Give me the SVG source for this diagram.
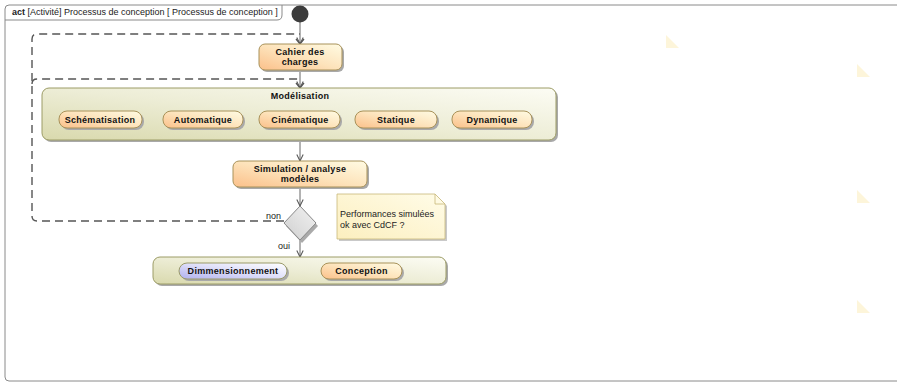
<svg xmlns="http://www.w3.org/2000/svg" width="897" height="382" viewBox="0 0 897 382">
  <defs>
    <linearGradient id="gAction" x1="0" y1="1" x2="1" y2="0">
      <stop offset="0" stop-color="#fbc08a"/>
      <stop offset="0.5" stop-color="#fde3bb"/>
      <stop offset="1" stop-color="#fffbe3"/>
    </linearGradient>
    <linearGradient id="gBlue" x1="0" y1="1" x2="1" y2="0">
      <stop offset="0" stop-color="#b0b0ee"/>
      <stop offset="0.55" stop-color="#e2e2fa"/>
      <stop offset="1" stop-color="#ffffff"/>
    </linearGradient>
    <linearGradient id="gGroup" x1="0" y1="1" x2="1" y2="0">
      <stop offset="0" stop-color="#d9d9ad"/>
      <stop offset="0.5" stop-color="#ededd6"/>
      <stop offset="1" stop-color="#fcfcf4"/>
    </linearGradient>
    <linearGradient id="gNote" x1="0" y1="1" x2="1" y2="0">
      <stop offset="0" stop-color="#fcefbf"/>
      <stop offset="1" stop-color="#fffce8"/>
    </linearGradient>
    <linearGradient id="gDiamond" x1="0" y1="1" x2="1" y2="0">
      <stop offset="0" stop-color="#cfcfcf"/>
      <stop offset="1" stop-color="#f2f2f2"/>
    </linearGradient>
    <marker id="open" viewBox="0 0 10 10" refX="9" refY="5" markerWidth="8" markerHeight="8" orient="auto" markerUnits="userSpaceOnUse">
      <path d="M1,1 L9,5 L1,9" fill="none" stroke="#555" stroke-width="1.3"/>
    </marker>
  </defs>
  <style>
    .frame { fill: #fff; stroke: #8a8a8a; stroke-width: 1; }
    .shadow { fill: #a9a9a9; }
    .action { fill: url(#gAction); stroke: #a8925a; stroke-width: 1; }
    .blue { fill: url(#gBlue); stroke: #9a9a6a; stroke-width: 1; }
    .group { fill: url(#gGroup); stroke: #9c9c66; stroke-width: 1; }
    .note { fill: url(#gNote); stroke: #c8b878; stroke-width: 0.8; }
    .lbl { font-family: "Liberation Sans", Arial, sans-serif; font-size: 9px; font-weight: bold; fill: #111; text-anchor: middle; letter-spacing: 0.3px; }
    .txt { font-family: "Liberation Sans", Arial, sans-serif; font-size: 9px; fill: #222; }
    .flow { fill: none; stroke: #666; stroke-width: 1; }
    .dash { fill: none; stroke: #555; stroke-width: 1.4; stroke-dasharray: 8 5; }
    .fold { fill: #fdf5da; }
  </style>

  <!-- activity frame -->
  <g id="frame">
    <rect class="frame" x="5" y="5" width="900" height="376" rx="4"/>
    <path d="M5,20 H277 Q282,20 282,15 V5" fill="none" stroke="#8a8a8a" stroke-width="1"/>
    <text class="txt" x="12" y="15" font-size="9"><tspan font-weight="bold">act</tspan> [Activité] Processus de conception [ Processus de conception ]</text>
  </g>

  <!-- pale note folds -->
  <g id="folds">
    <polygon class="fold" points="666,35 666,48 679,48"/>
    <polygon class="fold" points="857,64 857,77 870,77"/>
    <polygon class="fold" points="857,190 857,203 870,203"/>
    <polygon class="fold" points="857,300 857,313 870,313"/>
  </g>

  <!-- connectors -->
  <g id="connectors">
    <line class="flow" x1="300" y1="22" x2="300" y2="44" marker-end="url(#open)"/>
    <line class="flow" x1="300" y1="70" x2="300" y2="88" marker-end="url(#open)"/>
    <line class="flow" x1="300" y1="141" x2="300" y2="161" marker-end="url(#open)"/>
    <line class="flow" x1="300" y1="187" x2="300" y2="206" marker-end="url(#open)"/>
    <line class="flow" x1="300" y1="240" x2="300" y2="257" marker-end="url(#open)"/>
    <path class="dash" d="M284,221 H37 Q32,221 32,216 V39 Q32,34 37,34 H300" />
    <path class="dash" d="M32,84 Q32,79 37,79 H300"/>
    <path d="M296,39 L300,44 L304,39" fill="none" stroke="#555" stroke-width="1.3"/>
    <path d="M296,83 L300,88 L304,83" fill="none" stroke="#555" stroke-width="1.3"/>
    <text class="txt" x="266" y="219" font-size="8">non</text>
    <text class="txt" x="278" y="249" font-size="8">oui</text>
  </g>

  <!-- initial node -->
  <g id="initial">
    <circle cx="300" cy="14" r="8.5" fill="#3c3c3c"/>
  </g>

  <g id="cahier">
    <rect class="shadow" x="261" y="46" width="83" height="26" rx="6"/>
    <rect class="action" x="259" y="44" width="83" height="26" rx="6"/>
    <text class="lbl" x="300" y="55">Cahier des</text>
    <text class="lbl" x="300" y="65">charges</text>
  </g>

  <g id="modelisation">
    <rect class="shadow" x="44" y="90" width="514" height="52" rx="7"/>
    <rect class="group" x="42" y="88" width="514" height="52" rx="7"/>
    <text class="lbl" x="300" y="99">Modélisation</text>
    <g id="schematisation">
      <rect class="shadow" x="61" y="113" width="83" height="17" rx="8"/>
      <rect class="action" x="59" y="111" width="83" height="17" rx="8"/>
      <text class="lbl" x="100" y="122.5">Schématisation</text>
    </g>
    <g id="automatique">
      <rect class="shadow" x="165" y="113" width="80" height="17" rx="8"/>
      <rect class="action" x="163" y="111" width="80" height="17" rx="8"/>
      <text class="lbl" x="203" y="122.5">Automatique</text>
    </g>
    <g id="cinematique">
      <rect class="shadow" x="261" y="113" width="81" height="17" rx="8"/>
      <rect class="action" x="259" y="111" width="81" height="17" rx="8"/>
      <text class="lbl" x="300" y="122.5">Cinématique</text>
    </g>
    <g id="statique">
      <rect class="shadow" x="357" y="113" width="82" height="17" rx="8"/>
      <rect class="action" x="355" y="111" width="82" height="17" rx="8"/>
      <text class="lbl" x="396" y="122.5">Statique</text>
    </g>
    <g id="dynamique">
      <rect class="shadow" x="454" y="113" width="80" height="17" rx="8"/>
      <rect class="action" x="452" y="111" width="80" height="17" rx="8"/>
      <text class="lbl" x="492" y="122.5">Dynamique</text>
    </g>
  </g>

  <g id="simulation">
    <rect class="shadow" x="235" y="163" width="134" height="26" rx="6"/>
    <rect class="action" x="233" y="161" width="134" height="26" rx="6"/>
    <text class="lbl" x="300" y="172">Simulation / analyse</text>
    <text class="lbl" x="300" y="182">modèles</text>
  </g>

  <g id="decision">
    <polygon points="302,209 318,226 302,243 286,226" fill="#aaa"/>
    <polygon points="300,206 316,223 300,240 284,223" fill="url(#gDiamond)" stroke="#888" stroke-width="1"/>
  </g>

  <g id="note">
    <path d="M339,196 H437 L447,206 V241 H339 Z" fill="#c9c9c9"/>
    <path class="note" d="M337,194 H435 L445,204 V239 H337 Z"/>
    <path d="M435,194 V204 H445" fill="none" stroke="#c8b878" stroke-width="0.8"/>
    <text class="txt" x="340" y="217" font-size="8">Performances simulées</text>
    <text class="txt" x="340" y="228" font-size="8">ok avec CdCF ?</text>
  </g>

  <g id="realisation">
    <rect class="shadow" x="155" y="259" width="293" height="27" rx="7"/>
    <rect class="group" x="153" y="257" width="293" height="27" rx="7"/>
    <g id="dimmensionnement">
      <rect class="shadow" x="181" y="265" width="108" height="16" rx="8"/>
      <rect class="blue" x="179" y="263" width="108" height="16" rx="8"/>
      <text class="lbl" x="233" y="274">Dimmensionnement</text>
    </g>
    <g id="conception">
      <rect class="shadow" x="323" y="265" width="81" height="16" rx="8"/>
      <rect class="action" x="321" y="263" width="81" height="16" rx="8"/>
      <text class="lbl" x="361.5" y="274">Conception</text>
    </g>
  </g>
</svg>
